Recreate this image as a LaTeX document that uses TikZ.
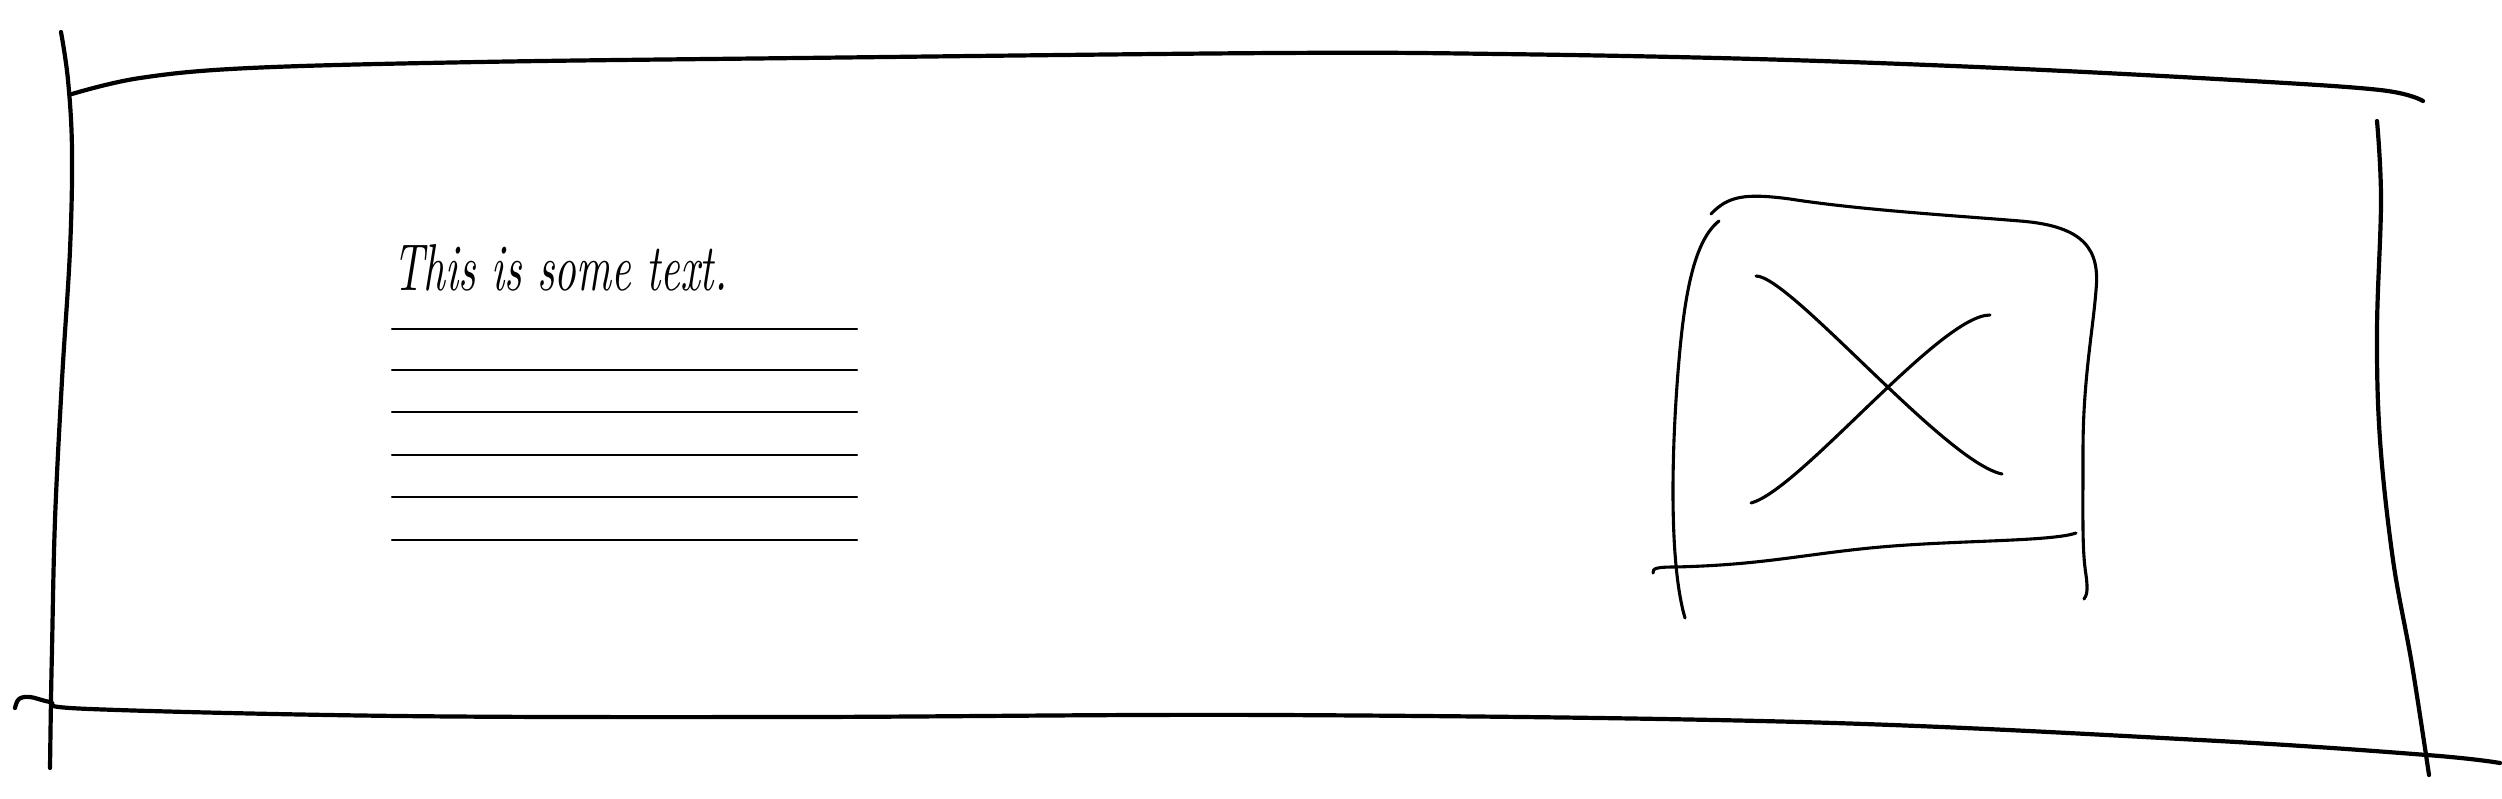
\documentclass[tikz,border=0pt]{standalone}
\usepackage{graphicx}
\begin{document}
\begin{tikzpicture}[x=1pt,y=-1pt,line cap=round,line join=round]
\tikzset{
  frame/.style={line width=4.2pt,black},
  imgstroke/.style={line width=3.1pt,black},
  ruled/.style={line width=2.1pt,black},
}
\useasboundingbox (0,0) rectangle (2502,798);
% outer frame
\draw[frame] plot[smooth,tension=0.6] coordinates {(61,32) (68,80) (72,150) (70,250) (62,380) (55,520) (52,650) (51,700) (50,768)};
\draw[frame] plot[smooth,tension=0.6] coordinates {(72,94) (140,78) (250,68) (479,62) (800,58) (1277,53) (1500,54) (1755,59) (2000,68) (2234,80) (2380,90) (2423,101)};
\draw[frame] plot[smooth,tension=0.6] coordinates {(2377,121) (2381,200) (2377,330) (2380,440) (2393,560) (2412,665) (2429,775)};
\draw[frame] plot[smooth,tension=0.6] coordinates {(15,708) (19,699) (30,697) (50,702) (90,709) (400,716) (800,717) (1277,715) (1800,722) (2200,740) (2427,755) (2500,763)};
% text
\node[anchor=base west,inner sep=0pt] (txt) at (393,290) {\resizebox{334pt}{46pt}{\itshape This is some text.}};
% ruled lines
\foreach \yy [count=\i] in {329,370,412,455,497,540}{
  \coordinate (l\i a) at (392,\yy);
  \coordinate (l\i b) at (857,\yy);
  \draw[ruled] (l\i a) -- (l\i b);
}
% image placeholder
\draw[imgstroke] (1711,214) .. controls (1728,196) and (1745,193) .. (1790,199)
  .. controls (1860,210) and (1960,216) .. (2020,221)
  .. controls (2085,226) and (2100,250) .. (2096,290)
  .. controls (2093,330) and (2083,380) .. (2083,450)
  .. controls (2083,520) and (2082,550) .. (2086,575)
  .. controls (2088,590) and (2087,595) .. (2084,599);
\draw[imgstroke] (1719,221) .. controls (1695,240) and (1685,290) .. (1679,360)
  .. controls (1672,440) and (1668,560) .. (1685,618);
\draw[imgstroke] (1653,573) .. controls (1652,568) and (1658,567) .. (1675,567)
  .. controls (1760,565) and (1800,555) .. (1870,548)
  .. controls (1950,540) and (2050,542) .. (2076,533);
\coordinate (xc) at (1883,387);
\draw[imgstroke] (1756,276) .. controls (1790,276) and (1945,462) .. (2002,474);
\draw[imgstroke] (1751,503) .. controls (1800,490) and (1940,315) .. (1990,315);
\end{tikzpicture}
\end{document}
